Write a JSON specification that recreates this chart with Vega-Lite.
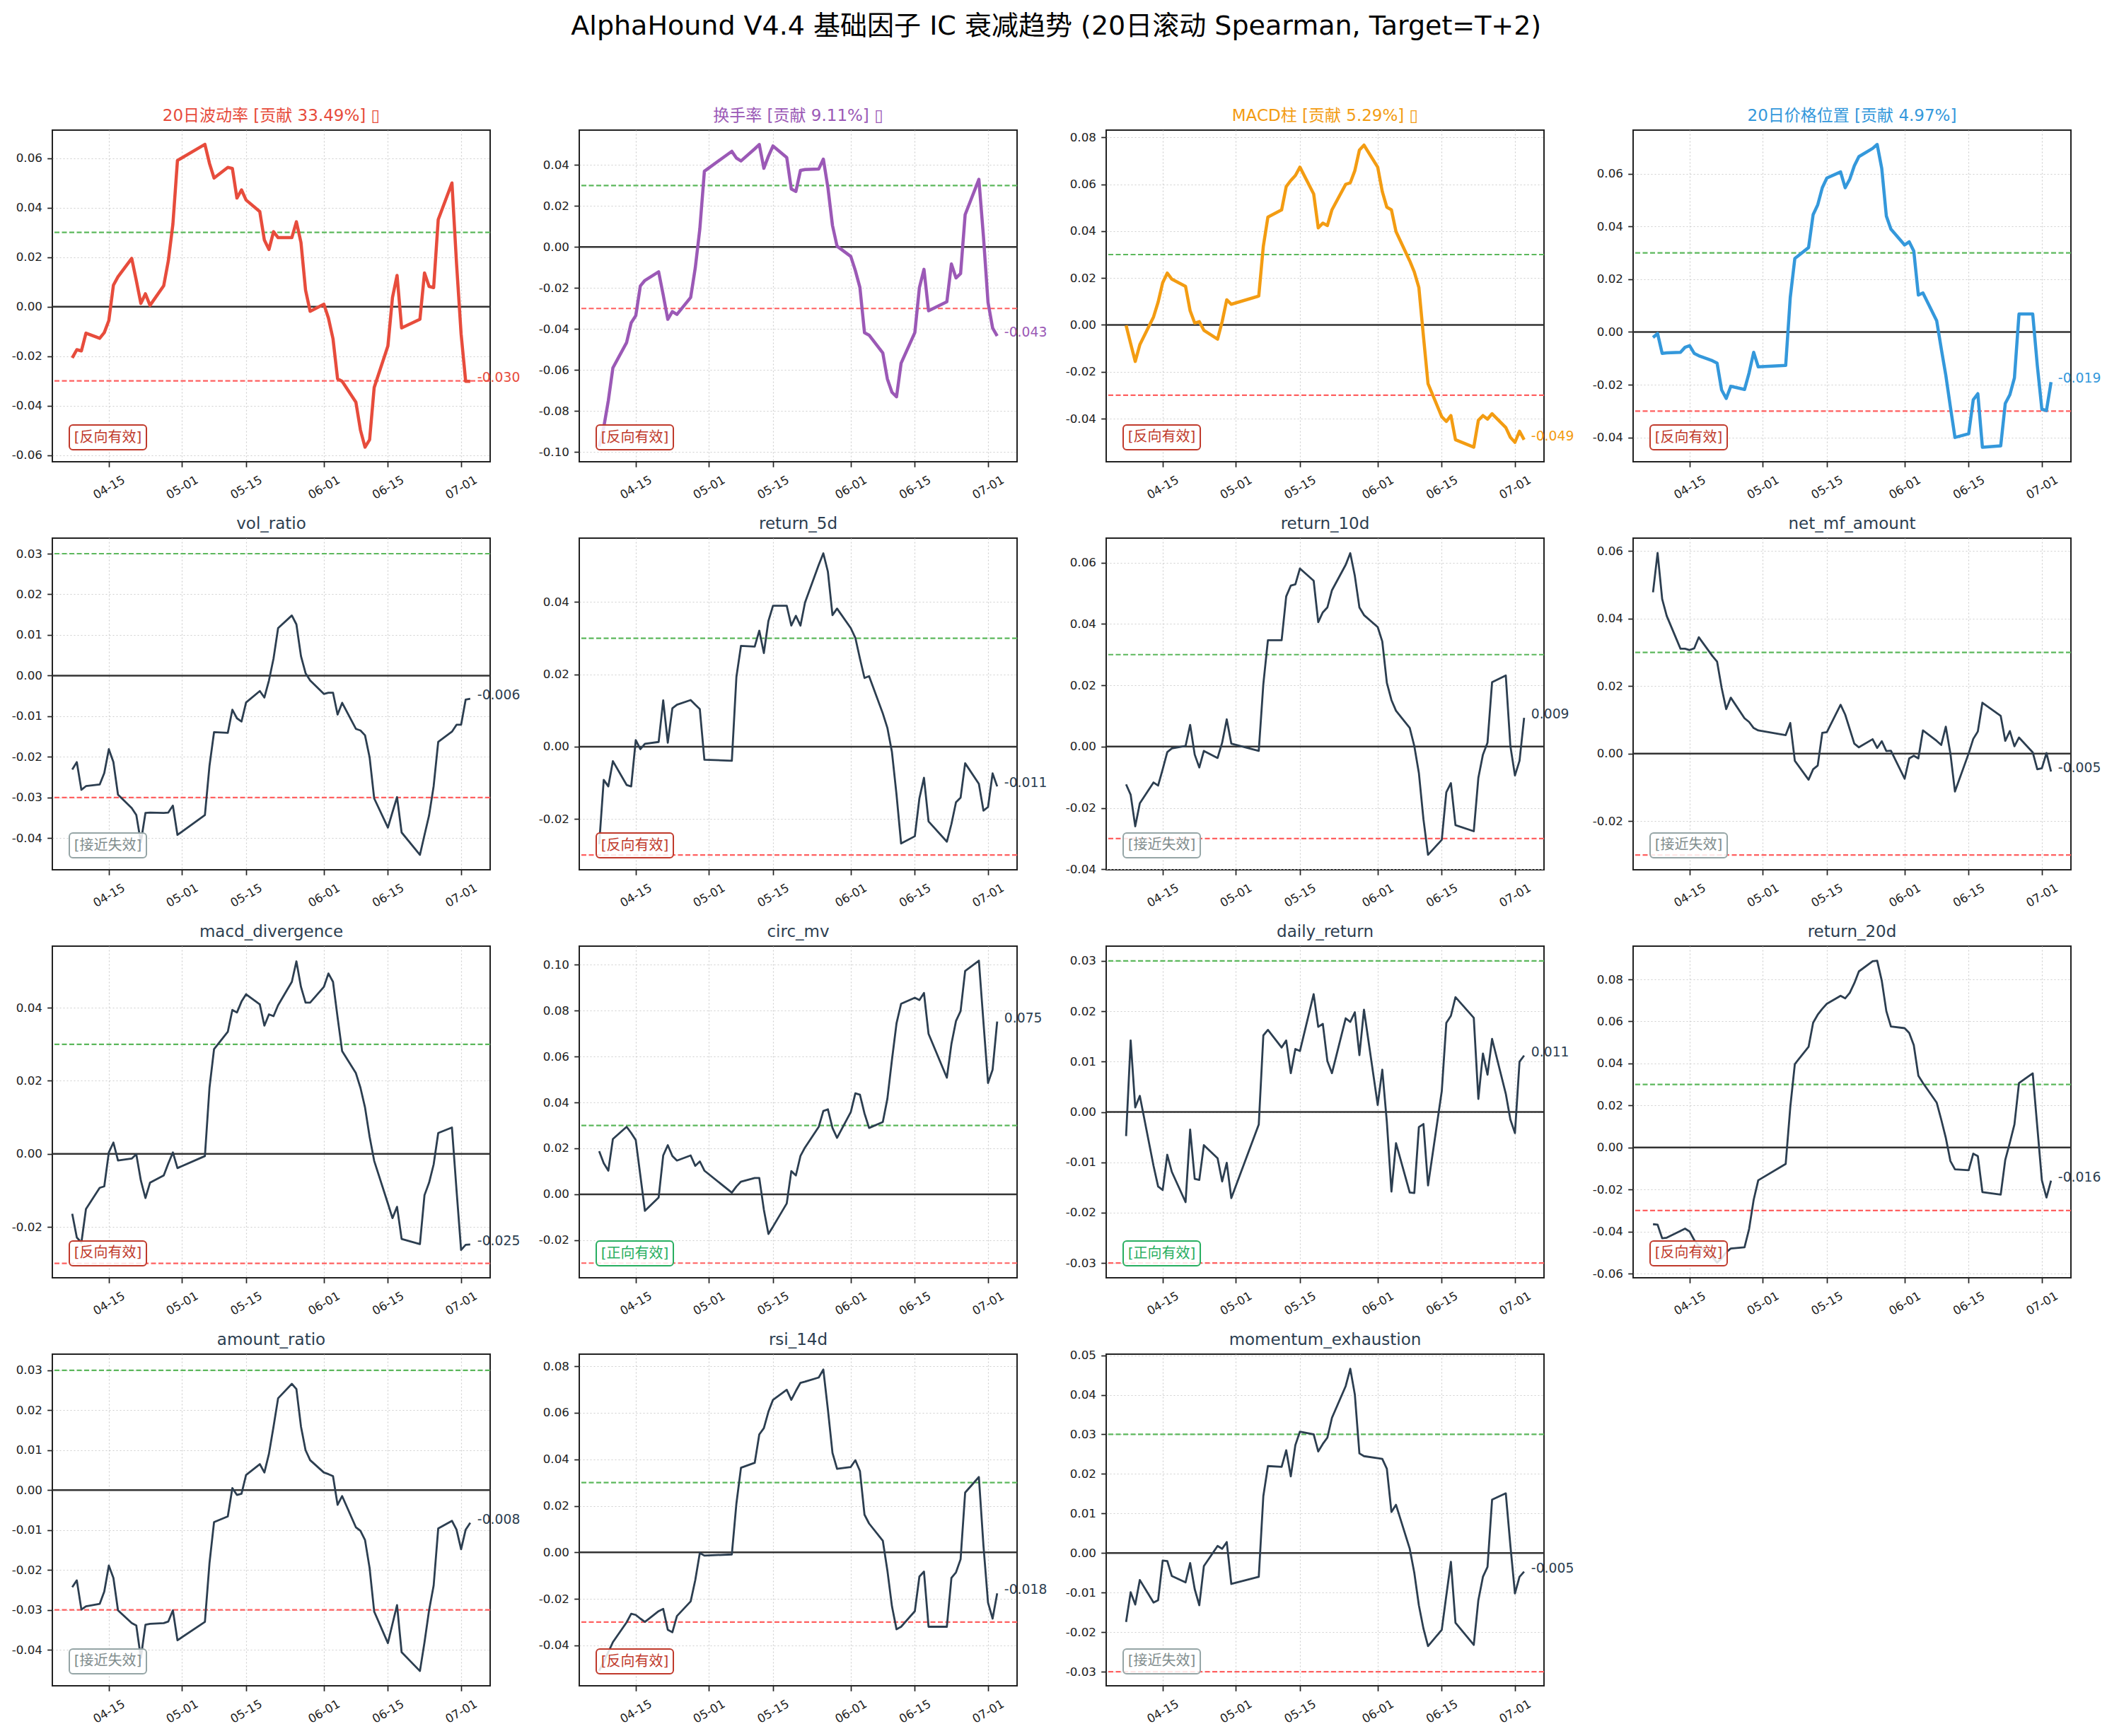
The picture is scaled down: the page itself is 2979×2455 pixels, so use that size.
{
  "$schema": "https://vega.github.io/schema/vega-lite/v6.json",
  "background": "white",
  "padding": {"left": 15, "top": 19, "right": 5, "bottom": 5},
  "title": {"text": "AlphaHound V4.4 基础因子 IC 衰减趋势 (20日滚动 Spearman, Target=T+2)", "fontSize": 38, "fontWeight": "normal", "color": "#000000", "anchor": "middle", "offset": 95},
  "datasets": {
    "ic": [
      {"date":"2026-04-07","volatility_20d":-0.0207,"turnover_rate":-0.0974,"macd_hist":-0.0002,"price_pos_20d":-0.0021,"vol_ratio":-0.0231,"return_5d":-0.027,"return_10d":-0.0123,"net_mf_amount":0.0478,"macd_divergence":-0.0164,"circ_mv":0.0188,"daily_return":-0.0048,"return_20d":-0.0365,"amount_ratio":-0.0243,"rsi_14d":-0.0509,"momentum_exhaustion":-0.0174},
      {"date":"2026-04-08","volatility_20d":-0.0174,"turnover_rate":-0.088,"macd_hist":-0.008,"price_pos_20d":-0.0006,"vol_ratio":-0.0213,"return_5d":-0.0092,"return_10d":-0.0157,"net_mf_amount":0.0595,"macd_divergence":-0.0229,"circ_mv":0.0135,"daily_return":0.0142,"return_20d":-0.0367,"amount_ratio":-0.0226,"rsi_14d":-0.0471,"momentum_exhaustion":-0.0099},
      {"date":"2026-04-09","volatility_20d":-0.0179,"turnover_rate":-0.075,"macd_hist":-0.0156,"price_pos_20d":-0.0081,"vol_ratio":-0.0281,"return_5d":-0.011,"return_10d":-0.026,"net_mf_amount":0.0458,"macd_divergence":-0.0243,"circ_mv":0.0103,"daily_return":0.0009,"return_20d":-0.0432,"amount_ratio":-0.0299,"rsi_14d":-0.0429,"momentum_exhaustion":-0.013},
      {"date":"2026-04-10","volatility_20d":-0.0107,"turnover_rate":-0.059,"macd_hist":-0.0085,"price_pos_20d":-0.0079,"vol_ratio":-0.0272,"return_5d":-0.004,"return_10d":-0.0185,"net_mf_amount":0.0408,"macd_divergence":-0.0151,"circ_mv":0.0241,"daily_return":0.0032,"return_20d":-0.0429,"amount_ratio":-0.0291,"rsi_14d":-0.0386,"momentum_exhaustion":-0.0068},
      {"date":"2026-04-13","volatility_20d":-0.0128,"turnover_rate":-0.0466,"macd_hist":0.0034,"price_pos_20d":-0.0077,"vol_ratio":-0.0268,"return_5d":-0.0106,"return_10d":-0.0117,"net_mf_amount":0.0311,"macd_divergence":-0.0093,"circ_mv":0.0294,"daily_return":-0.0107,"return_20d":-0.0397,"amount_ratio":-0.0285,"rsi_14d":-0.0301,"momentum_exhaustion":-0.0125},
      {"date":"2026-04-14","volatility_20d":-0.0105,"turnover_rate":-0.037,"macd_hist":0.0097,"price_pos_20d":-0.0058,"vol_ratio":-0.024,"return_5d":-0.011,"return_10d":-0.0127,"net_mf_amount":0.0311,"macd_divergence":-0.0089,"circ_mv":0.0267,"daily_return":-0.0148,"return_20d":-0.0386,"amount_ratio":-0.0254,"rsi_14d":-0.0264,"momentum_exhaustion":-0.0119},
      {"date":"2026-04-15","volatility_20d":-0.0056,"turnover_rate":-0.0335,"macd_hist":0.018,"price_pos_20d":-0.0052,"vol_ratio":-0.0181,"return_5d":0.0018,"return_10d":-0.0074,"net_mf_amount":0.0307,"macd_divergence":0.0004,"circ_mv":0.0236,"daily_return":-0.0155,"return_20d":-0.04,"amount_ratio":-0.0189,"rsi_14d":-0.0269,"momentum_exhaustion":-0.0019},
      {"date":"2026-04-16","volatility_20d":0.0087,"turnover_rate":-0.019,"macd_hist":0.0221,"price_pos_20d":-0.0081,"vol_ratio":-0.0213,"return_5d":-0.0007,"return_10d":-0.0018,"net_mf_amount":0.0312,"macd_divergence":0.0031,"circ_mv":0.0082,"daily_return":-0.0085,"return_20d":-0.044,"amount_ratio":-0.022,"rsi_14d":-0.0285,"momentum_exhaustion":-0.002},
      {"date":"2026-04-17","volatility_20d":0.0121,"turnover_rate":-0.0163,"macd_hist":0.0195,"price_pos_20d":-0.009,"vol_ratio":-0.0293,"return_5d":0.0008,"return_10d":-0.0006,"net_mf_amount":0.0345,"macd_divergence":-0.0018,"circ_mv":-0.0072,"daily_return":-0.0119,"return_20d":-0.0467,"amount_ratio":-0.0301,"rsi_14d":-0.0299,"momentum_exhaustion":-0.0058},
      {"date":"2026-04-20","volatility_20d":0.0195,"turnover_rate":-0.0121,"macd_hist":0.0164,"price_pos_20d":-0.0109,"vol_ratio":-0.0326,"return_5d":0.0013,"return_10d":0.0002,"net_mf_amount":0.0289,"macd_divergence":-0.0013,"circ_mv":-0.0014,"daily_return":-0.0179,"return_20d":-0.0521,"amount_ratio":-0.0333,"rsi_14d":-0.0253,"momentum_exhaustion":-0.0074},
      {"date":"2026-04-21","volatility_20d":0.0106,"turnover_rate":-0.0234,"macd_hist":0.006,"price_pos_20d":-0.0118,"vol_ratio":-0.0343,"return_5d":0.0128,"return_10d":0.0071,"net_mf_amount":0.0273,"macd_divergence":-0.0001,"circ_mv":0.0169,"daily_return":-0.0035,"return_20d":-0.0548,"amount_ratio":-0.0339,"rsi_14d":-0.0243,"momentum_exhaustion":-0.0025},
      {"date":"2026-04-22","volatility_20d":0.0013,"turnover_rate":-0.0353,"macd_hist":0.0008,"price_pos_20d":-0.022,"vol_ratio":-0.041,"return_5d":0.0011,"return_10d":-0.0026,"net_mf_amount":0.0195,"macd_divergence":-0.0073,"circ_mv":0.0214,"daily_return":-0.0133,"return_20d":-0.0527,"amount_ratio":-0.042,"rsi_14d":-0.0333,"momentum_exhaustion":-0.0091},
      {"date":"2026-04-23","volatility_20d":0.0052,"turnover_rate":-0.0315,"macd_hist":0.0014,"price_pos_20d":-0.0252,"vol_ratio":-0.0338,"return_5d":0.0106,"return_10d":-0.0068,"net_mf_amount":0.0132,"macd_divergence":-0.0121,"circ_mv":0.0167,"daily_return":-0.0135,"return_20d":-0.0498,"amount_ratio":-0.0337,"rsi_14d":-0.0344,"momentum_exhaustion":-0.0132},
      {"date":"2026-04-24","volatility_20d":0.0005,"turnover_rate":-0.0329,"macd_hist":-0.0023,"price_pos_20d":-0.0206,"vol_ratio":-0.0337,"return_5d":0.0116,"return_10d":-0.0014,"net_mf_amount":0.0166,"macd_divergence":-0.0079,"circ_mv":0.0147,"daily_return":-0.0066,"return_20d":-0.0481,"amount_ratio":-0.0335,"rsi_14d":-0.0274,"momentum_exhaustion":-0.0033},
      {"date":"2026-04-27","volatility_20d":0.0085,"turnover_rate":-0.0246,"macd_hist":-0.0061,"price_pos_20d":-0.0218,"vol_ratio":-0.0338,"return_5d":0.0129,"return_10d":-0.0037,"net_mf_amount":0.0105,"macd_divergence":-0.0059,"circ_mv":0.0169,"daily_return":-0.0092,"return_20d":-0.0475,"amount_ratio":-0.0333,"rsi_14d":-0.0211,"momentum_exhaustion":0.0018},
      {"date":"2026-04-28","volatility_20d":0.0185,"turnover_rate":-0.0103,"macd_hist":0.0014,"price_pos_20d":-0.0155,"vol_ratio":-0.0337,"return_5d":0.0116,"return_10d":0.0013,"net_mf_amount":0.0094,"macd_divergence":-0.0026,"circ_mv":0.0124,"daily_return":-0.0138,"return_20d":-0.0388,"amount_ratio":-0.0329,"rsi_14d":-0.012,"momentum_exhaustion":0.0011},
      {"date":"2026-04-29","volatility_20d":0.0333,"turnover_rate":0.0087,"macd_hist":0.0107,"price_pos_20d":-0.0077,"vol_ratio":-0.032,"return_5d":0.0104,"return_10d":0.0089,"net_mf_amount":0.0076,"macd_divergence":0.0004,"circ_mv":0.0143,"daily_return":-0.0101,"return_20d":-0.0249,"amount_ratio":-0.0301,"rsi_14d":-0.0003,"momentum_exhaustion":0.0028},
      {"date":"2026-04-30","volatility_20d":0.0591,"turnover_rate":0.037,"macd_hist":0.0088,"price_pos_20d":-0.0132,"vol_ratio":-0.0392,"return_5d":-0.0036,"return_10d":0.001,"net_mf_amount":0.0069,"macd_divergence":-0.0039,"circ_mv":0.0103,"daily_return":-0.0171,"return_20d":-0.0156,"amount_ratio":-0.0376,"rsi_14d":-0.0014,"momentum_exhaustion":-0.0078},
      {"date":"2026-05-06","volatility_20d":0.0656,"turnover_rate":0.0467,"macd_hist":0.0123,"price_pos_20d":-0.0127,"vol_ratio":-0.0343,"return_5d":-0.0039,"return_10d":-0.0014,"net_mf_amount":0.0055,"macd_divergence":-0.0006,"circ_mv":0.0007,"daily_return":-0.0025,"return_20d":-0.0078,"amount_ratio":-0.033,"rsi_14d":-0.0009,"momentum_exhaustion":-0.006},
      {"date":"2026-05-07","volatility_20d":0.0579,"turnover_rate":0.0434,"macd_hist":0.0336,"price_pos_20d":0.0131,"vol_ratio":-0.0222,"return_5d":0.0193,"return_10d":0.0204,"net_mf_amount":0.0091,"macd_divergence":0.0181,"circ_mv":0.0034,"daily_return":0.0152,"return_20d":0.0191,"amount_ratio":-0.0183,"rsi_14d":0.021,"momentum_exhaustion":0.0144},
      {"date":"2026-05-08","volatility_20d":0.052,"turnover_rate":0.042,"macd_hist":0.046,"price_pos_20d":0.0279,"vol_ratio":-0.0139,"return_5d":0.0279,"return_10d":0.0347,"net_mf_amount":-0.0021,"macd_divergence":0.0287,"circ_mv":0.0055,"daily_return":0.0163,"return_20d":0.0397,"amount_ratio":-0.008,"rsi_14d":0.0364,"momentum_exhaustion":0.022},
      {"date":"2026-05-11","volatility_20d":0.0563,"turnover_rate":0.0479,"macd_hist":0.0491,"price_pos_20d":0.032,"vol_ratio":-0.0141,"return_5d":0.0277,"return_10d":0.0347,"net_mf_amount":-0.0077,"macd_divergence":0.0334,"circ_mv":0.0071,"daily_return":0.0128,"return_20d":0.0479,"amount_ratio":-0.0066,"rsi_14d":0.0385,"momentum_exhaustion":0.0218},
      {"date":"2026-05-12","volatility_20d":0.0559,"turnover_rate":0.05,"macd_hist":0.059,"price_pos_20d":0.0445,"vol_ratio":-0.0084,"return_5d":0.0321,"return_10d":0.049,"net_mf_amount":-0.0046,"macd_divergence":0.0394,"circ_mv":0.0071,"daily_return":0.0142,"return_20d":0.0594,"amount_ratio":0.0005,"rsi_14d":0.0507,"momentum_exhaustion":0.026},
      {"date":"2026-05-13","volatility_20d":0.0439,"turnover_rate":0.0384,"macd_hist":0.0616,"price_pos_20d":0.0482,"vol_ratio":-0.0105,"return_5d":0.0259,"return_10d":0.0525,"net_mf_amount":-0.0035,"macd_divergence":0.0387,"circ_mv":-0.0067,"daily_return":0.0077,"return_20d":0.0632,"amount_ratio":-0.0012,"rsi_14d":0.0534,"momentum_exhaustion":0.0194},
      {"date":"2026-05-14","volatility_20d":0.0472,"turnover_rate":0.0443,"macd_hist":0.0637,"price_pos_20d":0.0547,"vol_ratio":-0.0113,"return_5d":0.0348,"return_10d":0.0529,"net_mf_amount":0.0062,"macd_divergence":0.0417,"circ_mv":-0.0173,"daily_return":0.0125,"return_20d":0.066,"amount_ratio":-0.0009,"rsi_14d":0.0605,"momentum_exhaustion":0.0273},
      {"date":"2026-05-15","volatility_20d":0.0431,"turnover_rate":0.0493,"macd_hist":0.0673,"price_pos_20d":0.0584,"vol_ratio":-0.0066,"return_5d":0.039,"return_10d":0.0581,"net_mf_amount":0.0064,"macd_divergence":0.0437,"circ_mv":-0.0141,"daily_return":0.0121,"return_20d":0.0684,"amount_ratio":0.0038,"rsi_14d":0.0656,"momentum_exhaustion":0.0307},
      {"date":"2026-05-18","volatility_20d":0.0384,"turnover_rate":0.0437,"macd_hist":0.0559,"price_pos_20d":0.0607,"vol_ratio":-0.0038,"return_5d":0.039,"return_10d":0.0541,"net_mf_amount":0.0145,"macd_divergence":0.0409,"circ_mv":-0.004,"daily_return":0.0234,"return_20d":0.0722,"amount_ratio":0.0065,"rsi_14d":0.0699,"momentum_exhaustion":0.03},
      {"date":"2026-05-19","volatility_20d":0.0269,"turnover_rate":0.0283,"macd_hist":0.0414,"price_pos_20d":0.0547,"vol_ratio":-0.0054,"return_5d":0.0335,"return_10d":0.0406,"net_mf_amount":0.0116,"macd_divergence":0.0351,"circ_mv":0.0101,"daily_return":0.0169,"return_20d":0.071,"amount_ratio":0.0044,"rsi_14d":0.0656,"momentum_exhaustion":0.0257},
      {"date":"2026-05-20","volatility_20d":0.0231,"turnover_rate":0.0271,"macd_hist":0.0434,"price_pos_20d":0.0579,"vol_ratio":-0.0012,"return_5d":0.0362,"return_10d":0.0438,"net_mf_amount":0.0073,"macd_divergence":0.0382,"circ_mv":0.0082,"daily_return":0.0175,"return_20d":0.0736,"amount_ratio":0.0091,"rsi_14d":0.0694,"momentum_exhaustion":0.0276},
      {"date":"2026-05-21","volatility_20d":0.0303,"turnover_rate":0.0374,"macd_hist":0.0424,"price_pos_20d":0.063,"vol_ratio":0.0042,"return_5d":0.0335,"return_10d":0.0454,"net_mf_amount":0.003,"macd_divergence":0.0377,"circ_mv":0.0167,"daily_return":0.0101,"return_20d":0.0782,"amount_ratio":0.0159,"rsi_14d":0.0729,"momentum_exhaustion":0.0292},
      {"date":"2026-05-22","volatility_20d":0.0279,"turnover_rate":0.0378,"macd_hist":0.0491,"price_pos_20d":0.0665,"vol_ratio":0.0117,"return_5d":0.0399,"return_10d":0.051,"net_mf_amount":0.0019,"macd_divergence":0.0407,"circ_mv":0.0204,"daily_return":0.0077,"return_20d":0.0838,"amount_ratio":0.023,"rsi_14d":0.0734,"momentum_exhaustion":0.0342},
      {"date":"2026-05-25","volatility_20d":0.0279,"turnover_rate":0.0381,"macd_hist":0.06,"price_pos_20d":0.0696,"vol_ratio":0.0148,"return_5d":0.0503,"return_10d":0.0593,"net_mf_amount":0.0043,"macd_divergence":0.0471,"circ_mv":0.0294,"daily_return":0.0186,"return_20d":0.0886,"amount_ratio":0.0266,"rsi_14d":0.0752,"momentum_exhaustion":0.0422},
      {"date":"2026-05-26","volatility_20d":0.0343,"turnover_rate":0.0429,"macd_hist":0.0606,"price_pos_20d":0.0711,"vol_ratio":0.0126,"return_5d":0.0535,"return_10d":0.0631,"net_mf_amount":0.0017,"macd_divergence":0.0527,"circ_mv":0.0363,"daily_return":0.0179,"return_20d":0.0889,"amount_ratio":0.0253,"rsi_14d":0.0786,"momentum_exhaustion":0.0466},
      {"date":"2026-05-27","volatility_20d":0.0259,"turnover_rate":0.029,"macd_hist":0.0658,"price_pos_20d":0.062,"vol_ratio":0.0048,"return_5d":0.0484,"return_10d":0.0557,"net_mf_amount":0.0037,"macd_divergence":0.0457,"circ_mv":0.037,"daily_return":0.0198,"return_20d":0.0794,"amount_ratio":0.0159,"rsi_14d":0.0614,"momentum_exhaustion":0.0401},
      {"date":"2026-05-28","volatility_20d":0.0067,"turnover_rate":0.0105,"macd_hist":0.0746,"price_pos_20d":0.044,"vol_ratio":0.0006,"return_5d":0.0364,"return_10d":0.0454,"net_mf_amount":0.0008,"macd_divergence":0.0414,"circ_mv":0.0289,"daily_return":0.0113,"return_20d":0.0649,"amount_ratio":0.01,"rsi_14d":0.0428,"momentum_exhaustion":0.0252},
      {"date":"2026-05-29","volatility_20d":-0.0019,"turnover_rate":0.0004,"macd_hist":0.0767,"price_pos_20d":0.039,"vol_ratio":-0.0012,"return_5d":0.0382,"return_10d":0.0429,"net_mf_amount":0.0009,"macd_divergence":0.0414,"circ_mv":0.0246,"daily_return":0.0203,"return_20d":0.0576,"amount_ratio":0.0075,"rsi_14d":0.0359,"momentum_exhaustion":0.0245},
      {"date":"2026-06-01","volatility_20d":0.001,"turnover_rate":-0.0046,"macd_hist":0.0673,"price_pos_20d":0.033,"vol_ratio":-0.0045,"return_5d":0.0328,"return_10d":0.039,"net_mf_amount":-0.0074,"macd_divergence":0.0457,"circ_mv":0.0358,"daily_return":0.0014,"return_20d":0.0568,"amount_ratio":0.0044,"rsi_14d":0.0367,"momentum_exhaustion":0.024},
      {"date":"2026-06-02","volatility_20d":-0.0046,"turnover_rate":-0.0115,"macd_hist":0.0569,"price_pos_20d":0.0342,"vol_ratio":-0.0042,"return_5d":0.0301,"return_10d":0.0343,"net_mf_amount":-0.0014,"macd_divergence":0.0494,"circ_mv":0.044,"daily_return":0.0084,"return_20d":0.0545,"amount_ratio":0.004,"rsi_14d":0.0396,"momentum_exhaustion":0.0238},
      {"date":"2026-06-03","volatility_20d":-0.013,"turnover_rate":-0.0198,"macd_hist":0.0502,"price_pos_20d":0.0307,"vol_ratio":-0.0042,"return_5d":0.0244,"return_10d":0.0208,"net_mf_amount":-0.0006,"macd_divergence":0.0471,"circ_mv":0.0434,"daily_return":-0.002,"return_20d":0.0487,"amount_ratio":0.0035,"rsi_14d":0.035,"momentum_exhaustion":0.0213},
      {"date":"2026-06-04","volatility_20d":-0.0292,"turnover_rate":-0.0418,"macd_hist":0.0491,"price_pos_20d":0.014,"vol_ratio":-0.0096,"return_5d":0.019,"return_10d":0.0152,"net_mf_amount":-0.0014,"macd_divergence":0.0374,"circ_mv":0.0352,"daily_return":-0.0158,"return_20d":0.0342,"amount_ratio":-0.0037,"rsi_14d":0.0162,"momentum_exhaustion":0.0104},
      {"date":"2026-06-05","volatility_20d":-0.0302,"turnover_rate":-0.043,"macd_hist":0.0398,"price_pos_20d":0.0148,"vol_ratio":-0.0067,"return_5d":0.0195,"return_10d":0.0117,"net_mf_amount":0.0069,"macd_divergence":0.0281,"circ_mv":0.0289,"daily_return":-0.0062,"return_20d":0.0307,"amount_ratio":-0.0015,"rsi_14d":0.0124,"momentum_exhaustion":0.0122},
      {"date":"2026-06-08","volatility_20d":-0.0386,"turnover_rate":-0.0517,"macd_hist":0.0273,"price_pos_20d":0.0043,"vol_ratio":-0.0131,"return_5d":0.0092,"return_10d":0.0061,"net_mf_amount":0.0038,"macd_divergence":0.0221,"circ_mv":0.0315,"daily_return":-0.016,"return_20d":0.0214,"amount_ratio":-0.0093,"rsi_14d":0.005,"momentum_exhaustion":0.0011},
      {"date":"2026-06-09","volatility_20d":-0.0499,"turnover_rate":-0.0644,"macd_hist":0.0226,"price_pos_20d":-0.0063,"vol_ratio":-0.0135,"return_5d":0.0052,"return_10d":0.0002,"net_mf_amount":0.0026,"macd_divergence":0.0181,"circ_mv":0.0416,"daily_return":-0.0161,"return_20d":0.0133,"amount_ratio":-0.0102,"rsi_14d":-0.0078,"momentum_exhaustion":-0.005},
      {"date":"2026-06-10","volatility_20d":-0.0568,"turnover_rate":-0.0709,"macd_hist":0.0159,"price_pos_20d":-0.0164,"vol_ratio":-0.0147,"return_5d":-0.0015,"return_10d":-0.0086,"net_mf_amount":0.008,"macd_divergence":0.0127,"circ_mv":0.0586,"daily_return":-0.003,"return_20d":0.0046,"amount_ratio":-0.0125,"rsi_14d":-0.0232,"momentum_exhaustion":-0.0132},
      {"date":"2026-06-11","volatility_20d":-0.0538,"turnover_rate":-0.0731,"macd_hist":-0.0049,"price_pos_20d":-0.0284,"vol_ratio":-0.0201,"return_5d":-0.0133,"return_10d":-0.0237,"net_mf_amount":0.0001,"macd_divergence":0.0047,"circ_mv":0.0745,"daily_return":-0.0024,"return_20d":-0.0064,"amount_ratio":-0.0195,"rsi_14d":-0.0331,"momentum_exhaustion":-0.0191},
      {"date":"2026-06-12","volatility_20d":-0.0327,"turnover_rate":-0.0567,"macd_hist":-0.0251,"price_pos_20d":-0.04,"vol_ratio":-0.0302,"return_5d":-0.0268,"return_10d":-0.0353,"net_mf_amount":-0.0112,"macd_divergence":-0.0019,"circ_mv":0.083,"daily_return":-0.0146,"return_20d":-0.0104,"amount_ratio":-0.0304,"rsi_14d":-0.032,"momentum_exhaustion":-0.0235},
      {"date":"2026-06-15","volatility_20d":-0.0159,"turnover_rate":-0.0418,"macd_hist":-0.0392,"price_pos_20d":-0.0386,"vol_ratio":-0.0374,"return_5d":-0.0248,"return_10d":-0.0304,"net_mf_amount":0.0001,"macd_divergence":-0.0136,"circ_mv":0.0856,"daily_return":0.0041,"return_20d":-0.0108,"amount_ratio":-0.0383,"rsi_14d":-0.0253,"momentum_exhaustion":-0.0194},
      {"date":"2026-06-16","volatility_20d":0.0037,"turnover_rate":-0.0198,"macd_hist":-0.0412,"price_pos_20d":-0.0257,"vol_ratio":-0.0336,"return_5d":-0.0143,"return_10d":-0.0149,"net_mf_amount":0.0044,"macd_divergence":-0.0176,"circ_mv":0.0846,"daily_return":0.0177,"return_20d":-0.0029,"amount_ratio":-0.0335,"rsi_14d":-0.0104,"momentum_exhaustion":-0.0107},
      {"date":"2026-06-17","volatility_20d":0.0126,"turnover_rate":-0.0109,"macd_hist":-0.0387,"price_pos_20d":-0.0234,"vol_ratio":-0.0299,"return_5d":-0.0086,"return_10d":-0.0119,"net_mf_amount":0.0066,"macd_divergence":-0.0145,"circ_mv":0.0877,"daily_return":0.0191,"return_20d":-0.0041,"amount_ratio":-0.0288,"rsi_14d":-0.0083,"momentum_exhaustion":-0.0022},
      {"date":"2026-06-18","volatility_20d":-0.0086,"turnover_rate":-0.0311,"macd_hist":-0.049,"price_pos_20d":-0.0437,"vol_ratio":-0.0386,"return_5d":-0.0207,"return_10d":-0.0256,"net_mf_amount":0.0151,"macd_divergence":-0.0233,"circ_mv":0.0699,"daily_return":0.0228,"return_20d":-0.0212,"amount_ratio":-0.0406,"rsi_14d":-0.032,"momentum_exhaustion":-0.0176},
      {"date":"2026-06-22","volatility_20d":-0.0051,"turnover_rate":-0.0267,"macd_hist":-0.0522,"price_pos_20d":-0.0432,"vol_ratio":-0.0441,"return_5d":-0.0263,"return_10d":-0.0276,"net_mf_amount":0.0112,"macd_divergence":-0.0247,"circ_mv":0.0508,"daily_return":0.0187,"return_20d":-0.0224,"amount_ratio":-0.0453,"rsi_14d":-0.032,"momentum_exhaustion":-0.0232},
      {"date":"2026-06-23","volatility_20d":0.0136,"turnover_rate":-0.0083,"macd_hist":-0.0407,"price_pos_20d":-0.0271,"vol_ratio":-0.0392,"return_5d":-0.0214,"return_10d":-0.0102,"net_mf_amount":0.0038,"macd_divergence":-0.0113,"circ_mv":0.0655,"daily_return":0.0026,"return_20d":-0.0058,"amount_ratio":-0.0381,"rsi_14d":-0.011,"momentum_exhaustion":-0.0119},
      {"date":"2026-06-24","volatility_20d":0.0082,"turnover_rate":-0.0151,"macd_hist":-0.0387,"price_pos_20d":-0.0238,"vol_ratio":-0.0344,"return_5d":-0.0154,"return_10d":-0.0026,"net_mf_amount":0.0067,"macd_divergence":-0.0079,"circ_mv":0.0755,"daily_return":0.0116,"return_20d":0.0023,"amount_ratio":-0.0301,"rsi_14d":-0.0086,"momentum_exhaustion":-0.006},
      {"date":"2026-06-25","volatility_20d":0.0077,"turnover_rate":-0.013,"macd_hist":-0.0402,"price_pos_20d":-0.0174,"vol_ratio":-0.0272,"return_5d":-0.0141,"return_10d":0.0013,"net_mf_amount":0.0022,"macd_divergence":-0.0029,"circ_mv":0.0798,"daily_return":0.0074,"return_20d":0.011,"amount_ratio":-0.0239,"rsi_14d":-0.003,"momentum_exhaustion":-0.0035},
      {"date":"2026-06-26","volatility_20d":0.0352,"turnover_rate":0.0158,"macd_hist":-0.0379,"price_pos_20d":0.0068,"vol_ratio":-0.0163,"return_5d":-0.0046,"return_10d":0.021,"net_mf_amount":0.0048,"macd_divergence":0.0057,"circ_mv":0.0973,"daily_return":0.0145,"return_20d":0.0307,"amount_ratio":-0.0096,"rsi_14d":0.0257,"momentum_exhaustion":0.0135},
      {"date":"2026-06-29","volatility_20d":0.05,"turnover_rate":0.033,"macd_hist":-0.0438,"price_pos_20d":0.0068,"vol_ratio":-0.0138,"return_5d":-0.0103,"return_10d":0.0232,"net_mf_amount":0.0004,"macd_divergence":0.0072,"circ_mv":0.1018,"daily_return":0.0036,"return_20d":0.0353,"amount_ratio":-0.0077,"rsi_14d":0.0324,"momentum_exhaustion":0.0151},
      {"date":"2026-06-30","volatility_20d":0.0175,"turnover_rate":0.0051,"macd_hist":-0.048,"price_pos_20d":-0.0127,"vol_ratio":-0.0121,"return_5d":-0.0177,"return_10d":0.0002,"net_mf_amount":-0.0046,"macd_divergence":-0.0099,"circ_mv":0.075,"daily_return":-0.0015,"return_20d":0.0098,"amount_ratio":-0.0099,"rsi_14d":0.0029,"momentum_exhaustion":0.0019},
      {"date":"2026-07-01","volatility_20d":-0.011,"turnover_rate":-0.027,"macd_hist":-0.0501,"price_pos_20d":-0.0293,"vol_ratio":-0.0121,"return_5d":-0.0167,"return_10d":-0.0094,"net_mf_amount":-0.0043,"macd_divergence":-0.0263,"circ_mv":0.0485,"daily_return":-0.0042,"return_20d":-0.0156,"amount_ratio":-0.0148,"rsi_14d":-0.0216,"momentum_exhaustion":-0.0102},
      {"date":"2026-07-02","volatility_20d":-0.0302,"turnover_rate":-0.0395,"macd_hist":-0.0454,"price_pos_20d":-0.0298,"vol_ratio":-0.0059,"return_5d":-0.0074,"return_10d":-0.0046,"net_mf_amount":0.0002,"macd_divergence":-0.0249,"circ_mv":0.0543,"daily_return":0.01,"return_20d":-0.0238,"amount_ratio":-0.0099,"rsi_14d":-0.0285,"momentum_exhaustion":-0.006},
      {"date":"2026-07-03","volatility_20d":-0.0302,"turnover_rate":-0.0434,"macd_hist":-0.049,"price_pos_20d":-0.019,"vol_ratio":-0.0057,"return_5d":-0.011,"return_10d":0.0094,"net_mf_amount":-0.0053,"macd_divergence":-0.0248,"circ_mv":0.0753,"daily_return":0.0112,"return_20d":-0.0158,"amount_ratio":-0.0082,"rsi_14d":-0.0176,"momentum_exhaustion":-0.0047}
    ]
  },
  "columns": 4,
  "spacing": {"row": 108, "column": 126},
  "bounds": "flush",
  "concat": [
    {
      "width": 619, "height": 469,
      "title": {"text": "20日波动率 [贡献 33.49%] ▯", "color": "#e74c3c"},
      "data": {"name": "ic"},
      "layer": [
        {"data": {"values": [{}]}, "mark": {"type": "rule", "color": "#5cb85c", "strokeWidth": 2.2, "strokeDash": [7, 3.5]}, "encoding": {"y": {"datum": 0.03, "type": "quantitative"}}},
        {"data": {"values": [{}]}, "mark": {"type": "rule", "color": "#ff6060", "strokeWidth": 2.2, "strokeDash": [7, 3.5]}, "encoding": {"y": {"datum": -0.03, "type": "quantitative"}}},
        {"data": {"values": [{}]}, "mark": {"type": "rule", "color": "#333333", "strokeWidth": 2.5}, "encoding": {"y": {"datum": 0, "type": "quantitative"}}},
        {"mark": {"type": "line", "color": "#e74c3c", "strokeWidth": 4.5, "strokeJoin": "round"},
         "encoding": {
           "x": {"field": "date", "type": "temporal", "scale": {"type": "utc", "domain": [{"year": 2026, "month": 4, "date": 2, "hours": 15, "minutes": 36, "utc": true}, {"year": 2026, "month": 7, "date": 7, "hours": 8, "minutes": 24, "utc": true}]}, "axis": {"title": null, "format": "%m-%d", "values": [{"year": 2026, "month": 4, "date": 15, "utc": true}, {"year": 2026, "month": 5, "date": 1, "utc": true}, {"year": 2026, "month": 5, "date": 15, "utc": true}, {"year": 2026, "month": 6, "date": 1, "utc": true}, {"year": 2026, "month": 6, "date": 15, "utc": true}, {"year": 2026, "month": 7, "date": 1, "utc": true}]}},
           "y": {"field": "volatility_20d", "type": "quantitative", "scale": {"domain": [-0.0627, 0.07136], "nice": false, "zero": false}, "axis": {"title": null, "format": ".2f", "values": [-0.06, -0.04, -0.02, 0, 0.02, 0.04, 0.06]}}
         }},
        {"transform": [{"calculate": "replace(format(datum.volatility_20d, '.3f'), '−', '-')", "as": "end_label"}],
         "mark": {"type": "text", "align": "left", "baseline": "middle", "dx": 10, "dy": -5, "fontSize": 18.75, "color": "#e74c3c"},
         "encoding": {
           "x": {"field": "date", "type": "temporal", "aggregate": "max"},
           "y": {"field": "volatility_20d", "type": "quantitative", "aggregate": {"argmax": "date"}},
           "text": {"field": "end_label", "type": "nominal", "aggregate": {"argmax": "date"}}
         }},
        {"data": {"values": [{"badge": "[反向有效]"}]}, "mark": {"type": "rect", "fill": "#ffffff", "fillOpacity": 0.85, "stroke": "#c0392b", "strokeWidth": 2, "cornerRadius": 5},
         "encoding": {"x": {"datum": {"year": 2026, "month": 4, "date": 6, "hours": 8, "minutes": 42, "utc": true}, "type": "temporal"}, "x2": {"datum": {"year": 2026, "month": 4, "date": 23, "hours": 5, "minutes": 10, "utc": true}}, "y": {"datum": -0.05784, "type": "quantitative"}, "y2": {"datum": -0.04784}}},
        {"data": {"values": [{"badge": "[反向有效]"}]}, "mark": {"type": "text", "color": "#c0392b", "fontSize": 20, "align": "center", "baseline": "middle"},
         "encoding": {"x": {"datum": {"year": 2026, "month": 4, "date": 14, "hours": 18, "minutes": 50, "utc": true}, "type": "temporal"}, "y": {"datum": -0.05284, "type": "quantitative"}, "text": {"field": "badge", "type": "nominal"}}}
      ]
    },
    {
      "width": 619, "height": 469,
      "title": {"text": "换手率 [贡献 9.11%] ▯", "color": "#9b59b6"},
      "data": {"name": "ic"},
      "layer": [
        {"data": {"values": [{}]}, "mark": {"type": "rule", "color": "#5cb85c", "strokeWidth": 2.2, "strokeDash": [7, 3.5]}, "encoding": {"y": {"datum": 0.03, "type": "quantitative"}}},
        {"data": {"values": [{}]}, "mark": {"type": "rule", "color": "#ff6060", "strokeWidth": 2.2, "strokeDash": [7, 3.5]}, "encoding": {"y": {"datum": -0.03, "type": "quantitative"}}},
        {"data": {"values": [{}]}, "mark": {"type": "rule", "color": "#333333", "strokeWidth": 2.5}, "encoding": {"y": {"datum": 0, "type": "quantitative"}}},
        {"mark": {"type": "line", "color": "#9b59b6", "strokeWidth": 4.5, "strokeJoin": "round"},
         "encoding": {
           "x": {"field": "date", "type": "temporal", "scale": {"type": "utc", "domain": [{"year": 2026, "month": 4, "date": 2, "hours": 15, "minutes": 36, "utc": true}, {"year": 2026, "month": 7, "date": 7, "hours": 8, "minutes": 24, "utc": true}]}, "axis": {"title": null, "format": "%m-%d", "values": [{"year": 2026, "month": 4, "date": 15, "utc": true}, {"year": 2026, "month": 5, "date": 1, "utc": true}, {"year": 2026, "month": 5, "date": 15, "utc": true}, {"year": 2026, "month": 6, "date": 1, "utc": true}, {"year": 2026, "month": 6, "date": 15, "utc": true}, {"year": 2026, "month": 7, "date": 1, "utc": true}]}},
           "y": {"field": "turnover_rate", "type": "quantitative", "scale": {"domain": [-0.1048, 0.05704], "nice": false, "zero": false}, "axis": {"title": null, "format": ".2f", "values": [-0.1, -0.08, -0.06, -0.04, -0.02, 0, 0.02, 0.04]}}
         }},
        {"transform": [{"calculate": "replace(format(datum.turnover_rate, '.3f'), '−', '-')", "as": "end_label"}],
         "mark": {"type": "text", "align": "left", "baseline": "middle", "dx": 10, "dy": -5, "fontSize": 18.75, "color": "#9b59b6"},
         "encoding": {
           "x": {"field": "date", "type": "temporal", "aggregate": "max"},
           "y": {"field": "turnover_rate", "type": "quantitative", "aggregate": {"argmax": "date"}},
           "text": {"field": "end_label", "type": "nominal", "aggregate": {"argmax": "date"}}
         }},
        {"data": {"values": [{"badge": "[反向有效]"}]}, "mark": {"type": "rect", "fill": "#ffffff", "fillOpacity": 0.85, "stroke": "#c0392b", "strokeWidth": 2, "cornerRadius": 5},
         "encoding": {"x": {"datum": {"year": 2026, "month": 4, "date": 6, "hours": 8, "minutes": 42, "utc": true}, "type": "temporal"}, "x2": {"datum": {"year": 2026, "month": 4, "date": 23, "hours": 5, "minutes": 10, "utc": true}}, "y": {"datum": -0.09893, "type": "quantitative"}, "y2": {"datum": -0.08686}}},
        {"data": {"values": [{"badge": "[反向有效]"}]}, "mark": {"type": "text", "color": "#c0392b", "fontSize": 20, "align": "center", "baseline": "middle"},
         "encoding": {"x": {"datum": {"year": 2026, "month": 4, "date": 14, "hours": 18, "minutes": 50, "utc": true}, "type": "temporal"}, "y": {"datum": -0.0929, "type": "quantitative"}, "text": {"field": "badge", "type": "nominal"}}}
      ]
    },
    {
      "width": 619, "height": 469,
      "title": {"text": "MACD柱 [贡献 5.29%] ▯", "color": "#f39c12"},
      "data": {"name": "ic"},
      "layer": [
        {"data": {"values": [{}]}, "mark": {"type": "rule", "color": "#5cb85c", "strokeWidth": 2.2, "strokeDash": [7, 3.5]}, "encoding": {"y": {"datum": 0.03, "type": "quantitative"}}},
        {"data": {"values": [{}]}, "mark": {"type": "rule", "color": "#ff6060", "strokeWidth": 2.2, "strokeDash": [7, 3.5]}, "encoding": {"y": {"datum": -0.03, "type": "quantitative"}}},
        {"data": {"values": [{}]}, "mark": {"type": "rule", "color": "#333333", "strokeWidth": 2.5}, "encoding": {"y": {"datum": 0, "type": "quantitative"}}},
        {"mark": {"type": "line", "color": "#f39c12", "strokeWidth": 4.5, "strokeJoin": "round"},
         "encoding": {
           "x": {"field": "date", "type": "temporal", "scale": {"type": "utc", "domain": [{"year": 2026, "month": 4, "date": 2, "hours": 15, "minutes": 36, "utc": true}, {"year": 2026, "month": 7, "date": 7, "hours": 8, "minutes": 24, "utc": true}]}, "axis": {"title": null, "format": "%m-%d", "values": [{"year": 2026, "month": 4, "date": 15, "utc": true}, {"year": 2026, "month": 5, "date": 1, "utc": true}, {"year": 2026, "month": 5, "date": 15, "utc": true}, {"year": 2026, "month": 6, "date": 1, "utc": true}, {"year": 2026, "month": 6, "date": 15, "utc": true}, {"year": 2026, "month": 7, "date": 1, "utc": true}]}},
           "y": {"field": "macd_hist", "type": "quantitative", "scale": {"domain": [-0.0584, 0.0831], "nice": false, "zero": false}, "axis": {"title": null, "format": ".2f", "values": [-0.04, -0.02, 0, 0.02, 0.04, 0.06, 0.08]}}
         }},
        {"transform": [{"calculate": "replace(format(datum.macd_hist, '.3f'), '−', '-')", "as": "end_label"}],
         "mark": {"type": "text", "align": "left", "baseline": "middle", "dx": 10, "dy": -5, "fontSize": 18.75, "color": "#f39c12"},
         "encoding": {
           "x": {"field": "date", "type": "temporal", "aggregate": "max"},
           "y": {"field": "macd_hist", "type": "quantitative", "aggregate": {"argmax": "date"}},
           "text": {"field": "end_label", "type": "nominal", "aggregate": {"argmax": "date"}}
         }},
        {"data": {"values": [{"badge": "[反向有效]"}]}, "mark": {"type": "rect", "fill": "#ffffff", "fillOpacity": 0.85, "stroke": "#c0392b", "strokeWidth": 2, "cornerRadius": 5},
         "encoding": {"x": {"datum": {"year": 2026, "month": 4, "date": 6, "hours": 8, "minutes": 42, "utc": true}, "type": "temporal"}, "x2": {"datum": {"year": 2026, "month": 4, "date": 23, "hours": 5, "minutes": 10, "utc": true}}, "y": {"datum": -0.05327, "type": "quantitative"}, "y2": {"datum": -0.04271}}},
        {"data": {"values": [{"badge": "[反向有效]"}]}, "mark": {"type": "text", "color": "#c0392b", "fontSize": 20, "align": "center", "baseline": "middle"},
         "encoding": {"x": {"datum": {"year": 2026, "month": 4, "date": 14, "hours": 18, "minutes": 50, "utc": true}, "type": "temporal"}, "y": {"datum": -0.04799, "type": "quantitative"}, "text": {"field": "badge", "type": "nominal"}}}
      ]
    },
    {
      "width": 619, "height": 469,
      "title": {"text": "20日价格位置 [贡献 4.97%]", "color": "#3498db"},
      "data": {"name": "ic"},
      "layer": [
        {"data": {"values": [{}]}, "mark": {"type": "rule", "color": "#5cb85c", "strokeWidth": 2.2, "strokeDash": [7, 3.5]}, "encoding": {"y": {"datum": 0.03, "type": "quantitative"}}},
        {"data": {"values": [{}]}, "mark": {"type": "rule", "color": "#ff6060", "strokeWidth": 2.2, "strokeDash": [7, 3.5]}, "encoding": {"y": {"datum": -0.03, "type": "quantitative"}}},
        {"data": {"values": [{}]}, "mark": {"type": "rule", "color": "#333333", "strokeWidth": 2.5}, "encoding": {"y": {"datum": 0, "type": "quantitative"}}},
        {"mark": {"type": "line", "color": "#3498db", "strokeWidth": 4.5, "strokeJoin": "round"},
         "encoding": {
           "x": {"field": "date", "type": "temporal", "scale": {"type": "utc", "domain": [{"year": 2026, "month": 4, "date": 2, "hours": 15, "minutes": 36, "utc": true}, {"year": 2026, "month": 7, "date": 7, "hours": 8, "minutes": 24, "utc": true}]}, "axis": {"title": null, "format": "%m-%d", "values": [{"year": 2026, "month": 4, "date": 15, "utc": true}, {"year": 2026, "month": 5, "date": 1, "utc": true}, {"year": 2026, "month": 5, "date": 15, "utc": true}, {"year": 2026, "month": 6, "date": 1, "utc": true}, {"year": 2026, "month": 6, "date": 15, "utc": true}, {"year": 2026, "month": 7, "date": 1, "utc": true}]}},
           "y": {"field": "price_pos_20d", "type": "quantitative", "scale": {"domain": [-0.04921, 0.07655], "nice": false, "zero": false}, "axis": {"title": null, "format": ".2f", "values": [-0.04, -0.02, 0, 0.02, 0.04, 0.06]}}
         }},
        {"transform": [{"calculate": "replace(format(datum.price_pos_20d, '.3f'), '−', '-')", "as": "end_label"}],
         "mark": {"type": "text", "align": "left", "baseline": "middle", "dx": 10, "dy": -5, "fontSize": 18.75, "color": "#3498db"},
         "encoding": {
           "x": {"field": "date", "type": "temporal", "aggregate": "max"},
           "y": {"field": "price_pos_20d", "type": "quantitative", "aggregate": {"argmax": "date"}},
           "text": {"field": "end_label", "type": "nominal", "aggregate": {"argmax": "date"}}
         }},
        {"data": {"values": [{"badge": "[反向有效]"}]}, "mark": {"type": "rect", "fill": "#ffffff", "fillOpacity": 0.85, "stroke": "#c0392b", "strokeWidth": 2, "cornerRadius": 5},
         "encoding": {"x": {"datum": {"year": 2026, "month": 4, "date": 6, "hours": 8, "minutes": 42, "utc": true}, "type": "temporal"}, "x2": {"datum": {"year": 2026, "month": 4, "date": 23, "hours": 5, "minutes": 10, "utc": true}}, "y": {"datum": -0.04465, "type": "quantitative"}, "y2": {"datum": -0.03527}}},
        {"data": {"values": [{"badge": "[反向有效]"}]}, "mark": {"type": "text", "color": "#c0392b", "fontSize": 20, "align": "center", "baseline": "middle"},
         "encoding": {"x": {"datum": {"year": 2026, "month": 4, "date": 14, "hours": 18, "minutes": 50, "utc": true}, "type": "temporal"}, "y": {"datum": -0.03996, "type": "quantitative"}, "text": {"field": "badge", "type": "nominal"}}}
      ]
    },
    {
      "width": 619, "height": 469,
      "title": {"text": "vol_ratio", "color": "#2c3e50"},
      "data": {"name": "ic"},
      "layer": [
        {"data": {"values": [{}]}, "mark": {"type": "rule", "color": "#5cb85c", "strokeWidth": 2.2, "strokeDash": [7, 3.5]}, "encoding": {"y": {"datum": 0.03, "type": "quantitative"}}},
        {"data": {"values": [{}]}, "mark": {"type": "rule", "color": "#ff6060", "strokeWidth": 2.2, "strokeDash": [7, 3.5]}, "encoding": {"y": {"datum": -0.03, "type": "quantitative"}}},
        {"data": {"values": [{}]}, "mark": {"type": "rule", "color": "#333333", "strokeWidth": 2.5}, "encoding": {"y": {"datum": 0, "type": "quantitative"}}},
        {"mark": {"type": "line", "color": "#2c3e50", "strokeWidth": 2.8, "strokeJoin": "round"},
         "encoding": {
           "x": {"field": "date", "type": "temporal", "scale": {"type": "utc", "domain": [{"year": 2026, "month": 4, "date": 2, "hours": 15, "minutes": 36, "utc": true}, {"year": 2026, "month": 7, "date": 7, "hours": 8, "minutes": 24, "utc": true}]}, "axis": {"title": null, "format": "%m-%d", "values": [{"year": 2026, "month": 4, "date": 15, "utc": true}, {"year": 2026, "month": 5, "date": 1, "utc": true}, {"year": 2026, "month": 5, "date": 15, "utc": true}, {"year": 2026, "month": 6, "date": 1, "utc": true}, {"year": 2026, "month": 6, "date": 15, "utc": true}, {"year": 2026, "month": 7, "date": 1, "utc": true}]}},
           "y": {"field": "vol_ratio", "type": "quantitative", "scale": {"domain": [-0.04778, 0.03383], "nice": false, "zero": false}, "axis": {"title": null, "format": ".2f", "values": [-0.04, -0.03, -0.02, -0.01, 0, 0.01, 0.02, 0.03]}}
         }},
        {"transform": [{"calculate": "replace(format(datum.vol_ratio, '.3f'), '−', '-')", "as": "end_label"}],
         "mark": {"type": "text", "align": "left", "baseline": "middle", "dx": 10, "dy": -5, "fontSize": 18.75, "color": "#2c3e50"},
         "encoding": {
           "x": {"field": "date", "type": "temporal", "aggregate": "max"},
           "y": {"field": "vol_ratio", "type": "quantitative", "aggregate": {"argmax": "date"}},
           "text": {"field": "end_label", "type": "nominal", "aggregate": {"argmax": "date"}}
         }},
        {"data": {"values": [{"badge": "[接近失效]"}]}, "mark": {"type": "rect", "fill": "#ffffff", "fillOpacity": 0.85, "stroke": "#95a5a6", "strokeWidth": 2, "cornerRadius": 5},
         "encoding": {"x": {"datum": {"year": 2026, "month": 4, "date": 6, "hours": 8, "minutes": 42, "utc": true}, "type": "temporal"}, "x2": {"datum": {"year": 2026, "month": 4, "date": 23, "hours": 5, "minutes": 10, "utc": true}}, "y": {"datum": -0.04482, "type": "quantitative"}, "y2": {"datum": -0.03873}}},
        {"data": {"values": [{"badge": "[接近失效]"}]}, "mark": {"type": "text", "color": "#7f8c8d", "fontSize": 20, "align": "center", "baseline": "middle"},
         "encoding": {"x": {"datum": {"year": 2026, "month": 4, "date": 14, "hours": 18, "minutes": 50, "utc": true}, "type": "temporal"}, "y": {"datum": -0.04178, "type": "quantitative"}, "text": {"field": "badge", "type": "nominal"}}}
      ]
    },
    {
      "width": 619, "height": 469,
      "title": {"text": "return_5d", "color": "#2c3e50"},
      "data": {"name": "ic"},
      "layer": [
        {"data": {"values": [{}]}, "mark": {"type": "rule", "color": "#5cb85c", "strokeWidth": 2.2, "strokeDash": [7, 3.5]}, "encoding": {"y": {"datum": 0.03, "type": "quantitative"}}},
        {"data": {"values": [{}]}, "mark": {"type": "rule", "color": "#ff6060", "strokeWidth": 2.2, "strokeDash": [7, 3.5]}, "encoding": {"y": {"datum": -0.03, "type": "quantitative"}}},
        {"data": {"values": [{}]}, "mark": {"type": "rule", "color": "#333333", "strokeWidth": 2.5}, "encoding": {"y": {"datum": 0, "type": "quantitative"}}},
        {"mark": {"type": "line", "color": "#2c3e50", "strokeWidth": 2.8, "strokeJoin": "round"},
         "encoding": {
           "x": {"field": "date", "type": "temporal", "scale": {"type": "utc", "domain": [{"year": 2026, "month": 4, "date": 2, "hours": 15, "minutes": 36, "utc": true}, {"year": 2026, "month": 7, "date": 7, "hours": 8, "minutes": 24, "utc": true}]}, "axis": {"title": null, "format": "%m-%d", "values": [{"year": 2026, "month": 4, "date": 15, "utc": true}, {"year": 2026, "month": 5, "date": 1, "utc": true}, {"year": 2026, "month": 5, "date": 15, "utc": true}, {"year": 2026, "month": 6, "date": 1, "utc": true}, {"year": 2026, "month": 6, "date": 15, "utc": true}, {"year": 2026, "month": 7, "date": 1, "utc": true}]}},
           "y": {"field": "return_5d", "type": "quantitative", "scale": {"domain": [-0.03407, 0.0577], "nice": false, "zero": false}, "axis": {"title": null, "format": ".2f", "values": [-0.02, 0, 0.02, 0.04]}}
         }},
        {"transform": [{"calculate": "replace(format(datum.return_5d, '.3f'), '−', '-')", "as": "end_label"}],
         "mark": {"type": "text", "align": "left", "baseline": "middle", "dx": 10, "dy": -5, "fontSize": 18.75, "color": "#2c3e50"},
         "encoding": {
           "x": {"field": "date", "type": "temporal", "aggregate": "max"},
           "y": {"field": "return_5d", "type": "quantitative", "aggregate": {"argmax": "date"}},
           "text": {"field": "end_label", "type": "nominal", "aggregate": {"argmax": "date"}}
         }},
        {"data": {"values": [{"badge": "[反向有效]"}]}, "mark": {"type": "rect", "fill": "#ffffff", "fillOpacity": 0.85, "stroke": "#c0392b", "strokeWidth": 2, "cornerRadius": 5},
         "encoding": {"x": {"datum": {"year": 2026, "month": 4, "date": 6, "hours": 8, "minutes": 42, "utc": true}, "type": "temporal"}, "x2": {"datum": {"year": 2026, "month": 4, "date": 23, "hours": 5, "minutes": 10, "utc": true}}, "y": {"datum": -0.03074, "type": "quantitative"}, "y2": {"datum": -0.0239}}},
        {"data": {"values": [{"badge": "[反向有效]"}]}, "mark": {"type": "text", "color": "#c0392b", "fontSize": 20, "align": "center", "baseline": "middle"},
         "encoding": {"x": {"datum": {"year": 2026, "month": 4, "date": 14, "hours": 18, "minutes": 50, "utc": true}, "type": "temporal"}, "y": {"datum": -0.02732, "type": "quantitative"}, "text": {"field": "badge", "type": "nominal"}}}
      ]
    },
    {
      "width": 619, "height": 469,
      "title": {"text": "return_10d", "color": "#2c3e50"},
      "data": {"name": "ic"},
      "layer": [
        {"data": {"values": [{}]}, "mark": {"type": "rule", "color": "#5cb85c", "strokeWidth": 2.2, "strokeDash": [7, 3.5]}, "encoding": {"y": {"datum": 0.03, "type": "quantitative"}}},
        {"data": {"values": [{}]}, "mark": {"type": "rule", "color": "#ff6060", "strokeWidth": 2.2, "strokeDash": [7, 3.5]}, "encoding": {"y": {"datum": -0.03, "type": "quantitative"}}},
        {"data": {"values": [{}]}, "mark": {"type": "rule", "color": "#333333", "strokeWidth": 2.5}, "encoding": {"y": {"datum": 0, "type": "quantitative"}}},
        {"mark": {"type": "line", "color": "#2c3e50", "strokeWidth": 2.8, "strokeJoin": "round"},
         "encoding": {
           "x": {"field": "date", "type": "temporal", "scale": {"type": "utc", "domain": [{"year": 2026, "month": 4, "date": 2, "hours": 15, "minutes": 36, "utc": true}, {"year": 2026, "month": 7, "date": 7, "hours": 8, "minutes": 24, "utc": true}]}, "axis": {"title": null, "format": "%m-%d", "values": [{"year": 2026, "month": 4, "date": 15, "utc": true}, {"year": 2026, "month": 5, "date": 1, "utc": true}, {"year": 2026, "month": 5, "date": 15, "utc": true}, {"year": 2026, "month": 6, "date": 1, "utc": true}, {"year": 2026, "month": 6, "date": 15, "utc": true}, {"year": 2026, "month": 7, "date": 1, "utc": true}]}},
           "y": {"field": "return_10d", "type": "quantitative", "scale": {"domain": [-0.04016, 0.068], "nice": false, "zero": false}, "axis": {"title": null, "format": ".2f", "values": [-0.04, -0.02, 0, 0.02, 0.04, 0.06]}}
         }},
        {"transform": [{"calculate": "replace(format(datum.return_10d, '.3f'), '−', '-')", "as": "end_label"}],
         "mark": {"type": "text", "align": "left", "baseline": "middle", "dx": 10, "dy": -5, "fontSize": 18.75, "color": "#2c3e50"},
         "encoding": {
           "x": {"field": "date", "type": "temporal", "aggregate": "max"},
           "y": {"field": "return_10d", "type": "quantitative", "aggregate": {"argmax": "date"}},
           "text": {"field": "end_label", "type": "nominal", "aggregate": {"argmax": "date"}}
         }},
        {"data": {"values": [{"badge": "[接近失效]"}]}, "mark": {"type": "rect", "fill": "#ffffff", "fillOpacity": 0.85, "stroke": "#95a5a6", "strokeWidth": 2, "cornerRadius": 5},
         "encoding": {"x": {"datum": {"year": 2026, "month": 4, "date": 6, "hours": 8, "minutes": 42, "utc": true}, "type": "temporal"}, "x2": {"datum": {"year": 2026, "month": 4, "date": 23, "hours": 5, "minutes": 10, "utc": true}}, "y": {"datum": -0.03624, "type": "quantitative"}, "y2": {"datum": -0.02817}}},
        {"data": {"values": [{"badge": "[接近失效]"}]}, "mark": {"type": "text", "color": "#7f8c8d", "fontSize": 20, "align": "center", "baseline": "middle"},
         "encoding": {"x": {"datum": {"year": 2026, "month": 4, "date": 14, "hours": 18, "minutes": 50, "utc": true}, "type": "temporal"}, "y": {"datum": -0.0322, "type": "quantitative"}, "text": {"field": "badge", "type": "nominal"}}}
      ]
    },
    {
      "width": 619, "height": 469,
      "title": {"text": "net_mf_amount", "color": "#2c3e50"},
      "data": {"name": "ic"},
      "layer": [
        {"data": {"values": [{}]}, "mark": {"type": "rule", "color": "#5cb85c", "strokeWidth": 2.2, "strokeDash": [7, 3.5]}, "encoding": {"y": {"datum": 0.03, "type": "quantitative"}}},
        {"data": {"values": [{}]}, "mark": {"type": "rule", "color": "#ff6060", "strokeWidth": 2.2, "strokeDash": [7, 3.5]}, "encoding": {"y": {"datum": -0.03, "type": "quantitative"}}},
        {"data": {"values": [{}]}, "mark": {"type": "rule", "color": "#333333", "strokeWidth": 2.5}, "encoding": {"y": {"datum": 0, "type": "quantitative"}}},
        {"mark": {"type": "line", "color": "#2c3e50", "strokeWidth": 2.8, "strokeJoin": "round"},
         "encoding": {
           "x": {"field": "date", "type": "temporal", "scale": {"type": "utc", "domain": [{"year": 2026, "month": 4, "date": 2, "hours": 15, "minutes": 36, "utc": true}, {"year": 2026, "month": 7, "date": 7, "hours": 8, "minutes": 24, "utc": true}]}, "axis": {"title": null, "format": "%m-%d", "values": [{"year": 2026, "month": 4, "date": 15, "utc": true}, {"year": 2026, "month": 5, "date": 1, "utc": true}, {"year": 2026, "month": 5, "date": 15, "utc": true}, {"year": 2026, "month": 6, "date": 1, "utc": true}, {"year": 2026, "month": 6, "date": 15, "utc": true}, {"year": 2026, "month": 7, "date": 1, "utc": true}]}},
           "y": {"field": "net_mf_amount", "type": "quantitative", "scale": {"domain": [-0.03438, 0.06386], "nice": false, "zero": false}, "axis": {"title": null, "format": ".2f", "values": [-0.02, 0, 0.02, 0.04, 0.06]}}
         }},
        {"transform": [{"calculate": "replace(format(datum.net_mf_amount, '.3f'), '−', '-')", "as": "end_label"}],
         "mark": {"type": "text", "align": "left", "baseline": "middle", "dx": 10, "dy": -5, "fontSize": 18.75, "color": "#2c3e50"},
         "encoding": {
           "x": {"field": "date", "type": "temporal", "aggregate": "max"},
           "y": {"field": "net_mf_amount", "type": "quantitative", "aggregate": {"argmax": "date"}},
           "text": {"field": "end_label", "type": "nominal", "aggregate": {"argmax": "date"}}
         }},
        {"data": {"values": [{"badge": "[接近失效]"}]}, "mark": {"type": "rect", "fill": "#ffffff", "fillOpacity": 0.85, "stroke": "#95a5a6", "strokeWidth": 2, "cornerRadius": 5},
         "encoding": {"x": {"datum": {"year": 2026, "month": 4, "date": 6, "hours": 8, "minutes": 42, "utc": true}, "type": "temporal"}, "x2": {"datum": {"year": 2026, "month": 4, "date": 23, "hours": 5, "minutes": 10, "utc": true}}, "y": {"datum": -0.03082, "type": "quantitative"}, "y2": {"datum": -0.02349}}},
        {"data": {"values": [{"badge": "[接近失效]"}]}, "mark": {"type": "text", "color": "#7f8c8d", "fontSize": 20, "align": "center", "baseline": "middle"},
         "encoding": {"x": {"datum": {"year": 2026, "month": 4, "date": 14, "hours": 18, "minutes": 50, "utc": true}, "type": "temporal"}, "y": {"datum": -0.02715, "type": "quantitative"}, "text": {"field": "badge", "type": "nominal"}}}
      ]
    },
    {
      "width": 619, "height": 469,
      "title": {"text": "macd_divergence", "color": "#2c3e50"},
      "data": {"name": "ic"},
      "layer": [
        {"data": {"values": [{}]}, "mark": {"type": "rule", "color": "#5cb85c", "strokeWidth": 2.2, "strokeDash": [7, 3.5]}, "encoding": {"y": {"datum": 0.03, "type": "quantitative"}}},
        {"data": {"values": [{}]}, "mark": {"type": "rule", "color": "#ff6060", "strokeWidth": 2.2, "strokeDash": [7, 3.5]}, "encoding": {"y": {"datum": -0.03, "type": "quantitative"}}},
        {"data": {"values": [{}]}, "mark": {"type": "rule", "color": "#333333", "strokeWidth": 2.5}, "encoding": {"y": {"datum": 0, "type": "quantitative"}}},
        {"mark": {"type": "line", "color": "#2c3e50", "strokeWidth": 2.8, "strokeJoin": "round"},
         "encoding": {
           "x": {"field": "date", "type": "temporal", "scale": {"type": "utc", "domain": [{"year": 2026, "month": 4, "date": 2, "hours": 15, "minutes": 36, "utc": true}, {"year": 2026, "month": 7, "date": 7, "hours": 8, "minutes": 24, "utc": true}]}, "axis": {"title": null, "format": "%m-%d", "values": [{"year": 2026, "month": 4, "date": 15, "utc": true}, {"year": 2026, "month": 5, "date": 1, "utc": true}, {"year": 2026, "month": 5, "date": 15, "utc": true}, {"year": 2026, "month": 6, "date": 1, "utc": true}, {"year": 2026, "month": 6, "date": 15, "utc": true}, {"year": 2026, "month": 7, "date": 1, "utc": true}]}},
           "y": {"field": "macd_divergence", "type": "quantitative", "scale": {"domain": [-0.03393, 0.05687], "nice": false, "zero": false}, "axis": {"title": null, "format": ".2f", "values": [-0.02, 0, 0.02, 0.04]}}
         }},
        {"transform": [{"calculate": "replace(format(datum.macd_divergence, '.3f'), '−', '-')", "as": "end_label"}],
         "mark": {"type": "text", "align": "left", "baseline": "middle", "dx": 10, "dy": -5, "fontSize": 18.75, "color": "#2c3e50"},
         "encoding": {
           "x": {"field": "date", "type": "temporal", "aggregate": "max"},
           "y": {"field": "macd_divergence", "type": "quantitative", "aggregate": {"argmax": "date"}},
           "text": {"field": "end_label", "type": "nominal", "aggregate": {"argmax": "date"}}
         }},
        {"data": {"values": [{"badge": "[反向有效]"}]}, "mark": {"type": "rect", "fill": "#ffffff", "fillOpacity": 0.85, "stroke": "#c0392b", "strokeWidth": 2, "cornerRadius": 5},
         "encoding": {"x": {"datum": {"year": 2026, "month": 4, "date": 6, "hours": 8, "minutes": 42, "utc": true}, "type": "temporal"}, "x2": {"datum": {"year": 2026, "month": 4, "date": 23, "hours": 5, "minutes": 10, "utc": true}}, "y": {"datum": -0.03064, "type": "quantitative"}, "y2": {"datum": -0.02386}}},
        {"data": {"values": [{"badge": "[反向有效]"}]}, "mark": {"type": "text", "color": "#c0392b", "fontSize": 20, "align": "center", "baseline": "middle"},
         "encoding": {"x": {"datum": {"year": 2026, "month": 4, "date": 14, "hours": 18, "minutes": 50, "utc": true}, "type": "temporal"}, "y": {"datum": -0.02725, "type": "quantitative"}, "text": {"field": "badge", "type": "nominal"}}}
      ]
    },
    {
      "width": 619, "height": 469,
      "title": {"text": "circ_mv", "color": "#2c3e50"},
      "data": {"name": "ic"},
      "layer": [
        {"data": {"values": [{}]}, "mark": {"type": "rule", "color": "#5cb85c", "strokeWidth": 2.2, "strokeDash": [7, 3.5]}, "encoding": {"y": {"datum": 0.03, "type": "quantitative"}}},
        {"data": {"values": [{}]}, "mark": {"type": "rule", "color": "#ff6060", "strokeWidth": 2.2, "strokeDash": [7, 3.5]}, "encoding": {"y": {"datum": -0.03, "type": "quantitative"}}},
        {"data": {"values": [{}]}, "mark": {"type": "rule", "color": "#333333", "strokeWidth": 2.5}, "encoding": {"y": {"datum": 0, "type": "quantitative"}}},
        {"mark": {"type": "line", "color": "#2c3e50", "strokeWidth": 2.8, "strokeJoin": "round"},
         "encoding": {
           "x": {"field": "date", "type": "temporal", "scale": {"type": "utc", "domain": [{"year": 2026, "month": 4, "date": 2, "hours": 15, "minutes": 36, "utc": true}, {"year": 2026, "month": 7, "date": 7, "hours": 8, "minutes": 24, "utc": true}]}, "axis": {"title": null, "format": "%m-%d", "values": [{"year": 2026, "month": 4, "date": 15, "utc": true}, {"year": 2026, "month": 5, "date": 1, "utc": true}, {"year": 2026, "month": 5, "date": 15, "utc": true}, {"year": 2026, "month": 6, "date": 1, "utc": true}, {"year": 2026, "month": 6, "date": 15, "utc": true}, {"year": 2026, "month": 7, "date": 1, "utc": true}]}},
           "y": {"field": "circ_mv", "type": "quantitative", "scale": {"domain": [-0.03639, 0.10812], "nice": false, "zero": false}, "axis": {"title": null, "format": ".2f", "values": [-0.02, 0, 0.02, 0.04, 0.06, 0.08, 0.1]}}
         }},
        {"transform": [{"calculate": "replace(format(datum.circ_mv, '.3f'), '−', '-')", "as": "end_label"}],
         "mark": {"type": "text", "align": "left", "baseline": "middle", "dx": 10, "dy": -5, "fontSize": 18.75, "color": "#2c3e50"},
         "encoding": {
           "x": {"field": "date", "type": "temporal", "aggregate": "max"},
           "y": {"field": "circ_mv", "type": "quantitative", "aggregate": {"argmax": "date"}},
           "text": {"field": "end_label", "type": "nominal", "aggregate": {"argmax": "date"}}
         }},
        {"data": {"values": [{"badge": "[正向有效]"}]}, "mark": {"type": "rect", "fill": "#ffffff", "fillOpacity": 0.85, "stroke": "#27ae60", "strokeWidth": 2, "cornerRadius": 5},
         "encoding": {"x": {"datum": {"year": 2026, "month": 4, "date": 6, "hours": 8, "minutes": 42, "utc": true}, "type": "temporal"}, "x2": {"datum": {"year": 2026, "month": 4, "date": 23, "hours": 5, "minutes": 10, "utc": true}}, "y": {"datum": -0.03115, "type": "quantitative"}, "y2": {"datum": -0.02037}}},
        {"data": {"values": [{"badge": "[正向有效]"}]}, "mark": {"type": "text", "color": "#27ae60", "fontSize": 20, "align": "center", "baseline": "middle"},
         "encoding": {"x": {"datum": {"year": 2026, "month": 4, "date": 14, "hours": 18, "minutes": 50, "utc": true}, "type": "temporal"}, "y": {"datum": -0.02576, "type": "quantitative"}, "text": {"field": "badge", "type": "nominal"}}}
      ]
    },
    {
      "width": 619, "height": 469,
      "title": {"text": "daily_return", "color": "#2c3e50"},
      "data": {"name": "ic"},
      "layer": [
        {"data": {"values": [{}]}, "mark": {"type": "rule", "color": "#5cb85c", "strokeWidth": 2.2, "strokeDash": [7, 3.5]}, "encoding": {"y": {"datum": 0.03, "type": "quantitative"}}},
        {"data": {"values": [{}]}, "mark": {"type": "rule", "color": "#ff6060", "strokeWidth": 2.2, "strokeDash": [7, 3.5]}, "encoding": {"y": {"datum": -0.03, "type": "quantitative"}}},
        {"data": {"values": [{}]}, "mark": {"type": "rule", "color": "#333333", "strokeWidth": 2.5}, "encoding": {"y": {"datum": 0, "type": "quantitative"}}},
        {"mark": {"type": "line", "color": "#2c3e50", "strokeWidth": 2.8, "strokeJoin": "round"},
         "encoding": {
           "x": {"field": "date", "type": "temporal", "scale": {"type": "utc", "domain": [{"year": 2026, "month": 4, "date": 2, "hours": 15, "minutes": 36, "utc": true}, {"year": 2026, "month": 7, "date": 7, "hours": 8, "minutes": 24, "utc": true}]}, "axis": {"title": null, "format": "%m-%d", "values": [{"year": 2026, "month": 4, "date": 15, "utc": true}, {"year": 2026, "month": 5, "date": 1, "utc": true}, {"year": 2026, "month": 5, "date": 15, "utc": true}, {"year": 2026, "month": 6, "date": 1, "utc": true}, {"year": 2026, "month": 6, "date": 15, "utc": true}, {"year": 2026, "month": 7, "date": 1, "utc": true}]}},
           "y": {"field": "daily_return", "type": "quantitative", "scale": {"domain": [-0.03293, 0.03293], "nice": false, "zero": false}, "axis": {"title": null, "format": ".2f", "values": [-0.03, -0.02, -0.01, 0, 0.01, 0.02, 0.03]}}
         }},
        {"transform": [{"calculate": "replace(format(datum.daily_return, '.3f'), '−', '-')", "as": "end_label"}],
         "mark": {"type": "text", "align": "left", "baseline": "middle", "dx": 10, "dy": -5, "fontSize": 18.75, "color": "#2c3e50"},
         "encoding": {
           "x": {"field": "date", "type": "temporal", "aggregate": "max"},
           "y": {"field": "daily_return", "type": "quantitative", "aggregate": {"argmax": "date"}},
           "text": {"field": "end_label", "type": "nominal", "aggregate": {"argmax": "date"}}
         }},
        {"data": {"values": [{"badge": "[正向有效]"}]}, "mark": {"type": "rect", "fill": "#ffffff", "fillOpacity": 0.85, "stroke": "#27ae60", "strokeWidth": 2, "cornerRadius": 5},
         "encoding": {"x": {"datum": {"year": 2026, "month": 4, "date": 6, "hours": 8, "minutes": 42, "utc": true}, "type": "temporal"}, "x2": {"datum": {"year": 2026, "month": 4, "date": 23, "hours": 5, "minutes": 10, "utc": true}}, "y": {"datum": -0.03054, "type": "quantitative"}, "y2": {"datum": -0.02563}}},
        {"data": {"values": [{"badge": "[正向有效]"}]}, "mark": {"type": "text", "color": "#27ae60", "fontSize": 20, "align": "center", "baseline": "middle"},
         "encoding": {"x": {"datum": {"year": 2026, "month": 4, "date": 14, "hours": 18, "minutes": 50, "utc": true}, "type": "temporal"}, "y": {"datum": -0.02809, "type": "quantitative"}, "text": {"field": "badge", "type": "nominal"}}}
      ]
    },
    {
      "width": 619, "height": 469,
      "title": {"text": "return_20d", "color": "#2c3e50"},
      "data": {"name": "ic"},
      "layer": [
        {"data": {"values": [{}]}, "mark": {"type": "rule", "color": "#5cb85c", "strokeWidth": 2.2, "strokeDash": [7, 3.5]}, "encoding": {"y": {"datum": 0.03, "type": "quantitative"}}},
        {"data": {"values": [{}]}, "mark": {"type": "rule", "color": "#ff6060", "strokeWidth": 2.2, "strokeDash": [7, 3.5]}, "encoding": {"y": {"datum": -0.03, "type": "quantitative"}}},
        {"data": {"values": [{}]}, "mark": {"type": "rule", "color": "#333333", "strokeWidth": 2.5}, "encoding": {"y": {"datum": 0, "type": "quantitative"}}},
        {"mark": {"type": "line", "color": "#2c3e50", "strokeWidth": 2.8, "strokeJoin": "round"},
         "encoding": {
           "x": {"field": "date", "type": "temporal", "scale": {"type": "utc", "domain": [{"year": 2026, "month": 4, "date": 2, "hours": 15, "minutes": 36, "utc": true}, {"year": 2026, "month": 7, "date": 7, "hours": 8, "minutes": 24, "utc": true}]}, "axis": {"title": null, "format": "%m-%d", "values": [{"year": 2026, "month": 4, "date": 15, "utc": true}, {"year": 2026, "month": 5, "date": 1, "utc": true}, {"year": 2026, "month": 5, "date": 15, "utc": true}, {"year": 2026, "month": 6, "date": 1, "utc": true}, {"year": 2026, "month": 6, "date": 15, "utc": true}, {"year": 2026, "month": 7, "date": 1, "utc": true}]}},
           "y": {"field": "return_20d", "type": "quantitative", "scale": {"domain": [-0.06199, 0.09583], "nice": false, "zero": false}, "axis": {"title": null, "format": ".2f", "values": [-0.06, -0.04, -0.02, 0, 0.02, 0.04, 0.06, 0.08]}}
         }},
        {"transform": [{"calculate": "replace(format(datum.return_20d, '.3f'), '−', '-')", "as": "end_label"}],
         "mark": {"type": "text", "align": "left", "baseline": "middle", "dx": 10, "dy": -5, "fontSize": 18.75, "color": "#2c3e50"},
         "encoding": {
           "x": {"field": "date", "type": "temporal", "aggregate": "max"},
           "y": {"field": "return_20d", "type": "quantitative", "aggregate": {"argmax": "date"}},
           "text": {"field": "end_label", "type": "nominal", "aggregate": {"argmax": "date"}}
         }},
        {"data": {"values": [{"badge": "[反向有效]"}]}, "mark": {"type": "rect", "fill": "#ffffff", "fillOpacity": 0.85, "stroke": "#c0392b", "strokeWidth": 2, "cornerRadius": 5},
         "encoding": {"x": {"datum": {"year": 2026, "month": 4, "date": 6, "hours": 8, "minutes": 42, "utc": true}, "type": "temporal"}, "x2": {"datum": {"year": 2026, "month": 4, "date": 23, "hours": 5, "minutes": 10, "utc": true}}, "y": {"datum": -0.05627, "type": "quantitative"}, "y2": {"datum": -0.04449}}},
        {"data": {"values": [{"badge": "[反向有效]"}]}, "mark": {"type": "text", "color": "#c0392b", "fontSize": 20, "align": "center", "baseline": "middle"},
         "encoding": {"x": {"datum": {"year": 2026, "month": 4, "date": 14, "hours": 18, "minutes": 50, "utc": true}, "type": "temporal"}, "y": {"datum": -0.05038, "type": "quantitative"}, "text": {"field": "badge", "type": "nominal"}}}
      ]
    },
    {
      "width": 619, "height": 469,
      "title": {"text": "amount_ratio", "color": "#2c3e50"},
      "data": {"name": "ic"},
      "layer": [
        {"data": {"values": [{}]}, "mark": {"type": "rule", "color": "#5cb85c", "strokeWidth": 2.2, "strokeDash": [7, 3.5]}, "encoding": {"y": {"datum": 0.03, "type": "quantitative"}}},
        {"data": {"values": [{}]}, "mark": {"type": "rule", "color": "#ff6060", "strokeWidth": 2.2, "strokeDash": [7, 3.5]}, "encoding": {"y": {"datum": -0.03, "type": "quantitative"}}},
        {"data": {"values": [{}]}, "mark": {"type": "rule", "color": "#333333", "strokeWidth": 2.5}, "encoding": {"y": {"datum": 0, "type": "quantitative"}}},
        {"mark": {"type": "line", "color": "#2c3e50", "strokeWidth": 2.8, "strokeJoin": "round"},
         "encoding": {
           "x": {"field": "date", "type": "temporal", "scale": {"type": "utc", "domain": [{"year": 2026, "month": 4, "date": 2, "hours": 15, "minutes": 36, "utc": true}, {"year": 2026, "month": 7, "date": 7, "hours": 8, "minutes": 24, "utc": true}]}, "axis": {"title": null, "format": "%m-%d", "values": [{"year": 2026, "month": 4, "date": 15, "utc": true}, {"year": 2026, "month": 5, "date": 1, "utc": true}, {"year": 2026, "month": 5, "date": 15, "utc": true}, {"year": 2026, "month": 6, "date": 1, "utc": true}, {"year": 2026, "month": 6, "date": 15, "utc": true}, {"year": 2026, "month": 7, "date": 1, "utc": true}]}},
           "y": {"field": "amount_ratio", "type": "quantitative", "scale": {"domain": [-0.049, 0.03404], "nice": false, "zero": false}, "axis": {"title": null, "format": ".2f", "values": [-0.04, -0.03, -0.02, -0.01, 0, 0.01, 0.02, 0.03]}}
         }},
        {"transform": [{"calculate": "replace(format(datum.amount_ratio, '.3f'), '−', '-')", "as": "end_label"}],
         "mark": {"type": "text", "align": "left", "baseline": "middle", "dx": 10, "dy": -5, "fontSize": 18.75, "color": "#2c3e50"},
         "encoding": {
           "x": {"field": "date", "type": "temporal", "aggregate": "max"},
           "y": {"field": "amount_ratio", "type": "quantitative", "aggregate": {"argmax": "date"}},
           "text": {"field": "end_label", "type": "nominal", "aggregate": {"argmax": "date"}}
         }},
        {"data": {"values": [{"badge": "[接近失效]"}]}, "mark": {"type": "rect", "fill": "#ffffff", "fillOpacity": 0.85, "stroke": "#95a5a6", "strokeWidth": 2, "cornerRadius": 5},
         "encoding": {"x": {"datum": {"year": 2026, "month": 4, "date": 6, "hours": 8, "minutes": 42, "utc": true}, "type": "temporal"}, "x2": {"datum": {"year": 2026, "month": 4, "date": 23, "hours": 5, "minutes": 10, "utc": true}}, "y": {"datum": -0.04599, "type": "quantitative"}, "y2": {"datum": -0.03979}}},
        {"data": {"values": [{"badge": "[接近失效]"}]}, "mark": {"type": "text", "color": "#7f8c8d", "fontSize": 20, "align": "center", "baseline": "middle"},
         "encoding": {"x": {"datum": {"year": 2026, "month": 4, "date": 14, "hours": 18, "minutes": 50, "utc": true}, "type": "temporal"}, "y": {"datum": -0.04289, "type": "quantitative"}, "text": {"field": "badge", "type": "nominal"}}}
      ]
    },
    {
      "width": 619, "height": 469,
      "title": {"text": "rsi_14d", "color": "#2c3e50"},
      "data": {"name": "ic"},
      "layer": [
        {"data": {"values": [{}]}, "mark": {"type": "rule", "color": "#5cb85c", "strokeWidth": 2.2, "strokeDash": [7, 3.5]}, "encoding": {"y": {"datum": 0.03, "type": "quantitative"}}},
        {"data": {"values": [{}]}, "mark": {"type": "rule", "color": "#ff6060", "strokeWidth": 2.2, "strokeDash": [7, 3.5]}, "encoding": {"y": {"datum": -0.03, "type": "quantitative"}}},
        {"data": {"values": [{}]}, "mark": {"type": "rule", "color": "#333333", "strokeWidth": 2.5}, "encoding": {"y": {"datum": 0, "type": "quantitative"}}},
        {"mark": {"type": "line", "color": "#2c3e50", "strokeWidth": 2.8, "strokeJoin": "round"},
         "encoding": {
           "x": {"field": "date", "type": "temporal", "scale": {"type": "utc", "domain": [{"year": 2026, "month": 4, "date": 2, "hours": 15, "minutes": 36, "utc": true}, {"year": 2026, "month": 7, "date": 7, "hours": 8, "minutes": 24, "utc": true}]}, "axis": {"title": null, "format": "%m-%d", "values": [{"year": 2026, "month": 4, "date": 15, "utc": true}, {"year": 2026, "month": 5, "date": 1, "utc": true}, {"year": 2026, "month": 5, "date": 15, "utc": true}, {"year": 2026, "month": 6, "date": 1, "utc": true}, {"year": 2026, "month": 6, "date": 15, "utc": true}, {"year": 2026, "month": 7, "date": 1, "utc": true}]}},
           "y": {"field": "rsi_14d", "type": "quantitative", "scale": {"domain": [-0.05739, 0.08523], "nice": false, "zero": false}, "axis": {"title": null, "format": ".2f", "values": [-0.04, -0.02, 0, 0.02, 0.04, 0.06, 0.08]}}
         }},
        {"transform": [{"calculate": "replace(format(datum.rsi_14d, '.3f'), '−', '-')", "as": "end_label"}],
         "mark": {"type": "text", "align": "left", "baseline": "middle", "dx": 10, "dy": -5, "fontSize": 18.75, "color": "#2c3e50"},
         "encoding": {
           "x": {"field": "date", "type": "temporal", "aggregate": "max"},
           "y": {"field": "rsi_14d", "type": "quantitative", "aggregate": {"argmax": "date"}},
           "text": {"field": "end_label", "type": "nominal", "aggregate": {"argmax": "date"}}
         }},
        {"data": {"values": [{"badge": "[反向有效]"}]}, "mark": {"type": "rect", "fill": "#ffffff", "fillOpacity": 0.85, "stroke": "#c0392b", "strokeWidth": 2, "cornerRadius": 5},
         "encoding": {"x": {"datum": {"year": 2026, "month": 4, "date": 6, "hours": 8, "minutes": 42, "utc": true}, "type": "temporal"}, "x2": {"datum": {"year": 2026, "month": 4, "date": 23, "hours": 5, "minutes": 10, "utc": true}}, "y": {"datum": -0.05222, "type": "quantitative"}, "y2": {"datum": -0.04158}}},
        {"data": {"values": [{"badge": "[反向有效]"}]}, "mark": {"type": "text", "color": "#c0392b", "fontSize": 20, "align": "center", "baseline": "middle"},
         "encoding": {"x": {"datum": {"year": 2026, "month": 4, "date": 14, "hours": 18, "minutes": 50, "utc": true}, "type": "temporal"}, "y": {"datum": -0.0469, "type": "quantitative"}, "text": {"field": "badge", "type": "nominal"}}}
      ]
    },
    {
      "width": 619, "height": 469,
      "title": {"text": "momentum_exhaustion", "color": "#2c3e50", "offset": 1.5},
      "data": {"name": "ic"},
      "layer": [
        {"data": {"values": [{}]}, "mark": {"type": "rule", "color": "#5cb85c", "strokeWidth": 2.2, "strokeDash": [7, 3.5]}, "encoding": {"y": {"datum": 0.03, "type": "quantitative"}}},
        {"data": {"values": [{}]}, "mark": {"type": "rule", "color": "#ff6060", "strokeWidth": 2.2, "strokeDash": [7, 3.5]}, "encoding": {"y": {"datum": -0.03, "type": "quantitative"}}},
        {"data": {"values": [{}]}, "mark": {"type": "rule", "color": "#333333", "strokeWidth": 2.5}, "encoding": {"y": {"datum": 0, "type": "quantitative"}}},
        {"mark": {"type": "line", "color": "#2c3e50", "strokeWidth": 2.8, "strokeJoin": "round"},
         "encoding": {
           "x": {"field": "date", "type": "temporal", "scale": {"type": "utc", "domain": [{"year": 2026, "month": 4, "date": 2, "hours": 15, "minutes": 36, "utc": true}, {"year": 2026, "month": 7, "date": 7, "hours": 8, "minutes": 24, "utc": true}]}, "axis": {"title": null, "format": "%m-%d", "values": [{"year": 2026, "month": 4, "date": 15, "utc": true}, {"year": 2026, "month": 5, "date": 1, "utc": true}, {"year": 2026, "month": 5, "date": 15, "utc": true}, {"year": 2026, "month": 6, "date": 1, "utc": true}, {"year": 2026, "month": 6, "date": 15, "utc": true}, {"year": 2026, "month": 7, "date": 1, "utc": true}]}},
           "y": {"field": "momentum_exhaustion", "type": "quantitative", "scale": {"domain": [-0.03354, 0.05028], "nice": false, "zero": false}, "axis": {"title": null, "format": ".2f", "values": [-0.03, -0.02, -0.01, 0, 0.01, 0.02, 0.03, 0.04, 0.05]}}
         }},
        {"transform": [{"calculate": "replace(format(datum.momentum_exhaustion, '.3f'), '−', '-')", "as": "end_label"}],
         "mark": {"type": "text", "align": "left", "baseline": "middle", "dx": 10, "dy": -5, "fontSize": 18.75, "color": "#2c3e50"},
         "encoding": {
           "x": {"field": "date", "type": "temporal", "aggregate": "max"},
           "y": {"field": "momentum_exhaustion", "type": "quantitative", "aggregate": {"argmax": "date"}},
           "text": {"field": "end_label", "type": "nominal", "aggregate": {"argmax": "date"}}
         }},
        {"data": {"values": [{"badge": "[接近失效]"}]}, "mark": {"type": "rect", "fill": "#ffffff", "fillOpacity": 0.85, "stroke": "#95a5a6", "strokeWidth": 2, "cornerRadius": 5},
         "encoding": {"x": {"datum": {"year": 2026, "month": 4, "date": 6, "hours": 8, "minutes": 42, "utc": true}, "type": "temporal"}, "x2": {"datum": {"year": 2026, "month": 4, "date": 23, "hours": 5, "minutes": 10, "utc": true}}, "y": {"datum": -0.0305, "type": "quantitative"}, "y2": {"datum": -0.02425}}},
        {"data": {"values": [{"badge": "[接近失效]"}]}, "mark": {"type": "text", "color": "#7f8c8d", "fontSize": 20, "align": "center", "baseline": "middle"},
         "encoding": {"x": {"datum": {"year": 2026, "month": 4, "date": 14, "hours": 18, "minutes": 50, "utc": true}, "type": "temporal"}, "y": {"datum": -0.02737, "type": "quantitative"}, "text": {"field": "badge", "type": "nominal"}}}
      ]
    }
  ],
  "config": {
    "font": "DejaVu Sans, Noto Sans CJK SC",
    "view": {"stroke": "#222222", "strokeWidth": 2},
    "axis": {"grid": true, "gridColor": "#cfcfcf", "gridDash": [2, 3], "gridWidth": 1.2, "domain": false, "ticks": true, "tickColor": "#222222", "tickWidth": 1.7, "tickSize": 7.3, "labelFontSize": 16.7, "labelColor": "#222222", "labelFont": "DejaVu Sans, Noto Sans CJK SC"},
    "axisX": {"labelAngle": -30, "labelAlign": "center", "labelBaseline": "middle", "labelPadding": 29, "labelFlush": false, "labelOverlap": false},
    "axisY": {"labelPadding": 7.3, "labelOverlap": false, "labelExpr": "replace(datum.label, '−', '-')"},
    "text": {"font": "DejaVu Sans, Noto Sans CJK SC"},
    "title": {"fontSize": 23, "fontWeight": "normal", "offset": 8, "anchor": "middle", "font": "DejaVu Sans, Noto Sans CJK SC"}
  }
}
